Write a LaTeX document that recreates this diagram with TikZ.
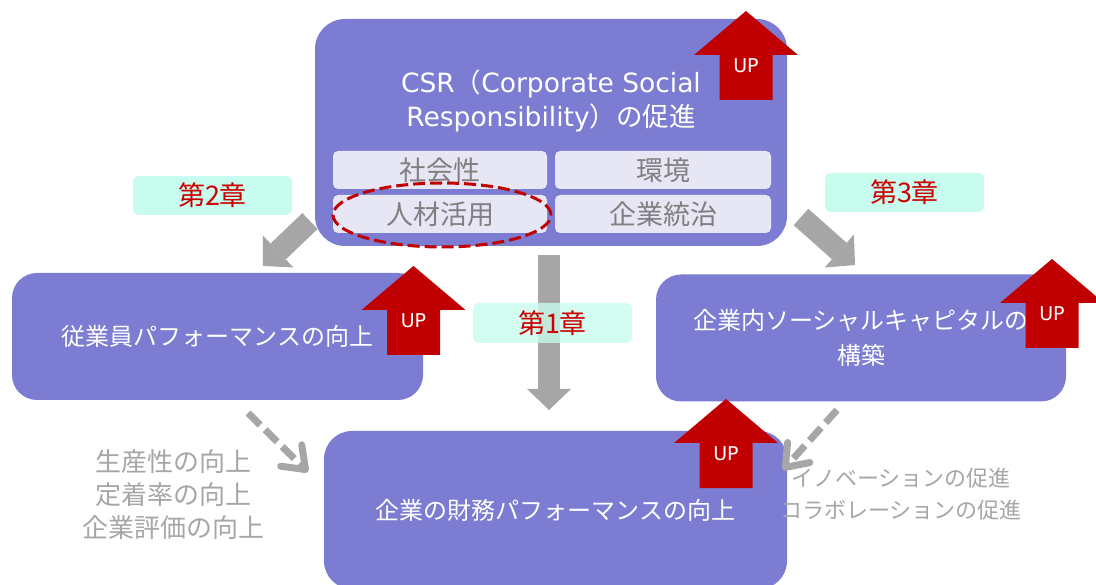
\documentclass[tikz,border=0pt]{standalone}
\usepackage{fontspec}
\setmainfont{Noto Sans CJK JP}
\newfontfamily\lat{DejaVu Sans}
\usetikzlibrary{arrows.meta,shapes.geometric}
\definecolor{boxblue}{RGB}{124,124,210}
\definecolor{subfill}{RGB}{230,230,245}
\definecolor{subtext}{RGB}{128,128,128}
\definecolor{upred}{RGB}{192,0,0}
\definecolor{labred}{RGB}{204,0,0}
\definecolor{mint}{RGB}{200,252,238}
\definecolor{arrgray}{RGB}{166,166,166}
\tikzset{
  bigbox/.style={fill=boxblue, rounded corners=28pt, text=white, align=center, inner sep=0pt, font=\fontsize{24}{35}\selectfont},
  subbox/.style={fill=subfill, rounded corners=5pt, minimum width=214pt, minimum height=38pt, inner sep=0pt, text=subtext, font=\fontsize{27}{30}\selectfont},
  chap/.style={fill=mint, rounded corners=6pt, minimum width=159pt, minimum height=39pt, inner sep=0pt, text=labred, font=\fontsize{27}{30}\selectfont},
  blockarrow/.style={draw=arrgray, line width=22pt, -{Triangle[length=21pt,width=44pt,line width=0pt]}},
  dasharrow/.style={draw=arrgray, line width=7pt, dash pattern=on 17pt off 7pt, -{Straight Barb[length=20pt,width=30pt,round]}},
  note/.style={text=arrgray, align=center},
  uptext/.style={text=white, font=\lat\fontsize{19}{22}\selectfont},
  uparr/.pic={
    \fill[upred] (-26.5,0) -- (-26.5,-45) -- (-52,-45) -- (0,-89) -- (52,-45) -- (26.5,-45) -- (26.5,0) -- cycle;
    \node[uptext] (-t) at (0,-34) {UP};
  }
}
\begin{document}
\begin{tikzpicture}[x=1pt,y=-1pt]
\useasboundingbox (0,0) rectangle (1096,585);
\clip (0,0) rectangle (1096,585);

% block arrows
\coordinate (a1s) at (549,255);
\coordinate (a1e) at (549,410);
\coordinate (a2s) at (310,221);
\coordinate (a2e) at (263,266);
\coordinate (a3s) at (801,217);
\coordinate (a3e) at (855,265);
\draw[blockarrow] (a1s) -- (a1e);
\draw[blockarrow] (a2s) -- (a2e);
\draw[blockarrow] (a3s) -- (a3e);

% big boxes
\node[bigbox, rounded corners=30pt, minimum width=472pt, minimum height=227pt] (csr) at (551,132.5) {};
\node[text=white, align=center, font=\fontsize{26.5}{34}\selectfont] (csrt) at (551,101) {{\lat CSR}（{\lat Corporate Social}\\{\lat Responsibility}）の促進};
\node[subbox] (s1) at (440,170) {社会性};
\node[subbox, minimum width=216pt] (s2) at (663,170) {環境};
\node[subbox] (s3) at (440,214) {人材活用};
\node[subbox, minimum width=216pt] (s4) at (663,214) {企業統治};
\node[ellipse, draw=upred, line width=3pt, dash pattern=on 12pt off 5pt, minimum width=218pt, minimum height=64pt, inner sep=0pt] (hl) at (442,215) {};

\node[bigbox, rounded corners=25pt, minimum width=411pt, minimum height=127pt] (emp) at (217.5,336.5) {従業員パフォーマンスの向上};
\node[bigbox, rounded corners=25pt, minimum width=410pt, minimum height=127pt] (soc) at (861,338) {企業内ソーシャルキャピタルの\\構築};
\node[bigbox, rounded corners=28pt, minimum width=463pt, minimum height=158pt] (fin) at (555.5,510) {企業の財務パフォーマンスの向上};

% chapter labels
\node[chap] (c2) at (212.5,195.5) {第2章};
\node[chap] (c3) at (904.5,192.5) {第3章};
\node[chap, fill opacity=0.8, text opacity=1, minimum height=40pt] (c1) at (552.5,323) {第1章};

% dashed arrows
\coordinate (d1s) at (248,413);
\coordinate (d1e) at (308,472);
\coordinate (d2s) at (837,410);
\coordinate (d2e) at (783,470);
\draw[dasharrow] (d1s) -- (d1e);
\draw[dasharrow] (d2s) -- (d2e);

% notes
\node[note, font=\fontsize{26}{33}\selectfont] (n1) at (173,495) {生産性の向上\\定着率の向上\\企業評価の向上};
\node[note, font=\fontsize{22}{32}\selectfont] (n2) at (901,494) {イノベーションの促進\\コラボレーションの促進};

% UP arrows
\pic (up1) at (746,100) {uparr};
\pic (up2) at (413.5,355) {uparr};
\pic (up3) at (1052,348) {uparr};
\pic (up4) at (726,488) {uparr};
\end{tikzpicture}
\end{document}
